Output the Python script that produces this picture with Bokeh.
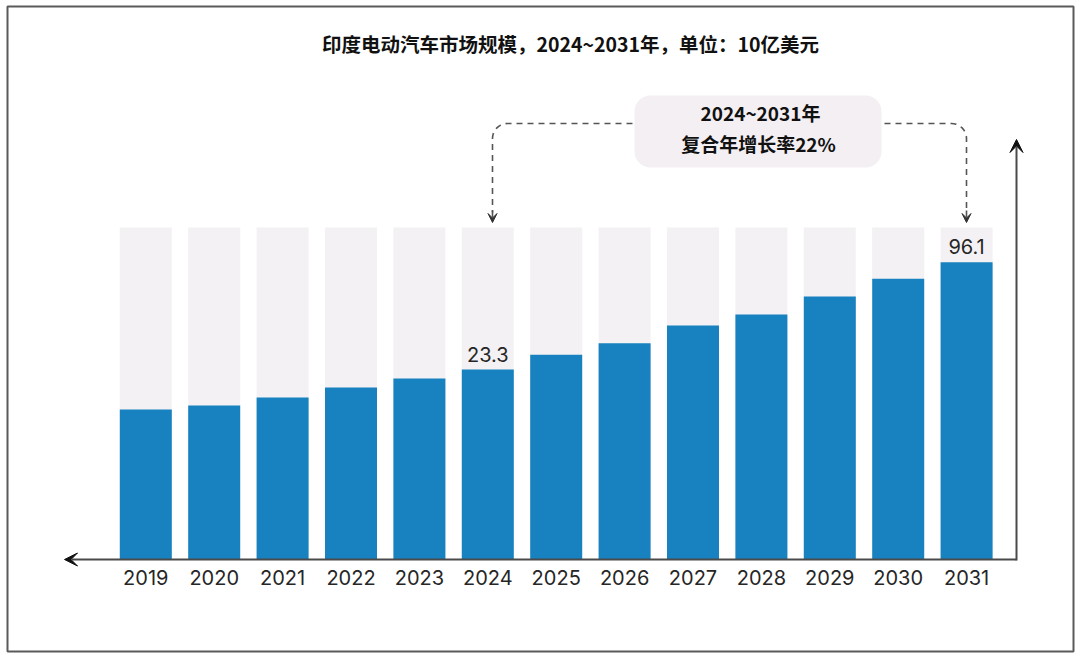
from bokeh.plotting import figure
from bokeh.models import Range1d, Arrow, VeeHead, BoxAnnotation, ColumnDataSource
from bokeh.core.properties import value
from bokeh.embed import file_html
from bokeh.resources import INLINE
import math

# ---------------- data ----------------
title_text = "印度电动汽车市场规模，2024~2031年，单位：10亿美元"
years = [2019, 2020, 2021, 2022, 2023, 2024, 2025, 2026, 2027, 2028, 2029, 2030, 2031]
year_labels = ["2019", "2020", "2021", "2022", "2023", "2024", "2025",
               "2026", "2027", "2028", "2029", "2030", "2031"]
# schematic bar heights (background bar = 100)
bar_height = [45.2, 46.4, 48.8, 51.8, 54.5, 57.2, 61.7, 65.1, 70.5, 73.8, 79.2, 84.6, 89.5]
bg_height = [100, 100, 100, 100, 100, 100, 100, 100, 100, 100, 100, 100, 100]
value_labels = ["", "", "", "", "", "23.3", "", "", "", "", "", "", "96.1"]
cagr_line1 = "2024~2031年"
cagr_line2 = "复合年增长率22%"

# ---------------- layout helpers (picture pixels -> data) ----------------
W, H = 1080, 655
FL, FR, FT, FB = 7, 1073, 6, 651   # frame edges in picture pixels
PITCH = 68.4          # px per year
UNIT = 3.32           # px per height unit
X_FIRST = 145.3       # x of first bar centre
BASE = 559.0          # y of baseline

def dx(px):
    return 2019 + (px - X_FIRST) / PITCH

def dy(py):
    return (BASE - py) / UNIT

p = figure(width=W, height=H, output_backend="svg", toolbar_location=None,
           x_range=Range1d(dx(FL), dx(FR)), y_range=Range1d(dy(FB), dy(FT)),
           min_border_left=FL, min_border_right=W - FR,
           min_border_top=FT, min_border_bottom=H - FB,
           background_fill_color="white", border_fill_color="white")
p.xaxis.visible = False
p.yaxis.visible = False
p.xgrid.visible = False
p.ygrid.visible = False
p.outline_line_color = "#5a5a5a"
p.outline_line_width = 2

src = ColumnDataSource(dict(
    x=years, lab=year_labels, h=bar_height, bg=bg_height, vl=value_labels,
    vy=[v + 15.5 / UNIT for v in bar_height],
    ty=[dy(577)] * len(years),
))

BW = 52 / PITCH
p.vbar(x="x", top="bg", bottom=0, width=BW, source=src,
       fill_color="#f4f1f4", line_color=None)
p.vbar(x="x", top="h", bottom=0, width=BW, source=src,
       fill_color="#1782bf", line_color=None)

p.text(x="x", y="vy", text="vl", source=src, text_align="center",
       text_baseline="middle", text_font=value("Inter"), text_font_size="20px",
       text_color="#262626")
p.text(x="x", y="ty", text="lab", source=src, text_align="center",
       text_baseline="middle", text_font=value("Inter"), text_font_size="20px",
       text_color="#262626")

# axes with arrows
AX = 1016
p.add_layout(Arrow(end=VeeHead(size=13, fill_color="#111111", line_color="#111111"),
                   x_start=dx(AX), y_start=dy(BASE), x_end=dx(64), y_end=dy(BASE),
                   line_color="#4a4a4a", line_width=2))
p.add_layout(Arrow(end=VeeHead(size=13, fill_color="#111111", line_color="#111111"),
                   x_start=dx(AX), y_start=dy(BASE + 1), x_end=dx(AX), y_end=dy(139),
                   line_color="#4a4a4a", line_width=2))

# annotation box
p.add_layout(BoxAnnotation(left=dx(634), right=dx(881), top=dy(95), bottom=dy(167),
                           fill_color="#f3eff3", fill_alpha=1, line_alpha=0,
                           border_radius=16, level="underlay"))


def bracket(x_h0, x_v, y_h, r, x_dir):
    pts_x = [x_h0]
    pts_y = [y_h]
    cx = x_v - x_dir * r
    cy = y_h + r
    for k in range(0, 11):
        t = math.pi / 2 * k / 10
        pts_x.append(cx + x_dir * r * math.sin(t))
        pts_y.append(cy - r * math.cos(t))
    pts_x.append(x_v)
    pts_y.append(212)
    p.line([dx(v) for v in pts_x], [dy(v) for v in pts_y], line_color="#555555",
           line_width=1.6, line_dash="6 5")
    p.add_layout(Arrow(end=VeeHead(size=9, fill_color="#333333", line_color="#333333"),
                       x_start=dx(x_v), y_start=dy(210), x_end=dx(x_v), y_end=dy(222),
                       line_color="#555555", line_width=1.6))


bracket(632, 492, 123, 15, -1)
bracket(884, 966, 123, 15, 1)

p.text(x=[dx(760)], y=[dy(112)], text=[cagr_line1], text_align="center",
       text_baseline="middle", text_font=value("Noto Sans CJK SC"),
       text_font_style="bold", text_font_size="19px", text_color="#111111")
p.text(x=[dx(758)], y=[dy(143)], text=[cagr_line2], text_align="center",
       text_baseline="middle", text_font=value("Noto Sans CJK SC"),
       text_font_style="bold", text_font_size="19px", text_color="#111111")

p.text(x=[dx(570)], y=[dy(43)], text=[title_text], text_align="center",
       text_baseline="middle", text_font=value("Noto Sans CJK SC"),
       text_font_style="bold", text_font_size="19.5px", text_color="#111111")

open("out.html", "w").write(file_html(p, INLINE))
